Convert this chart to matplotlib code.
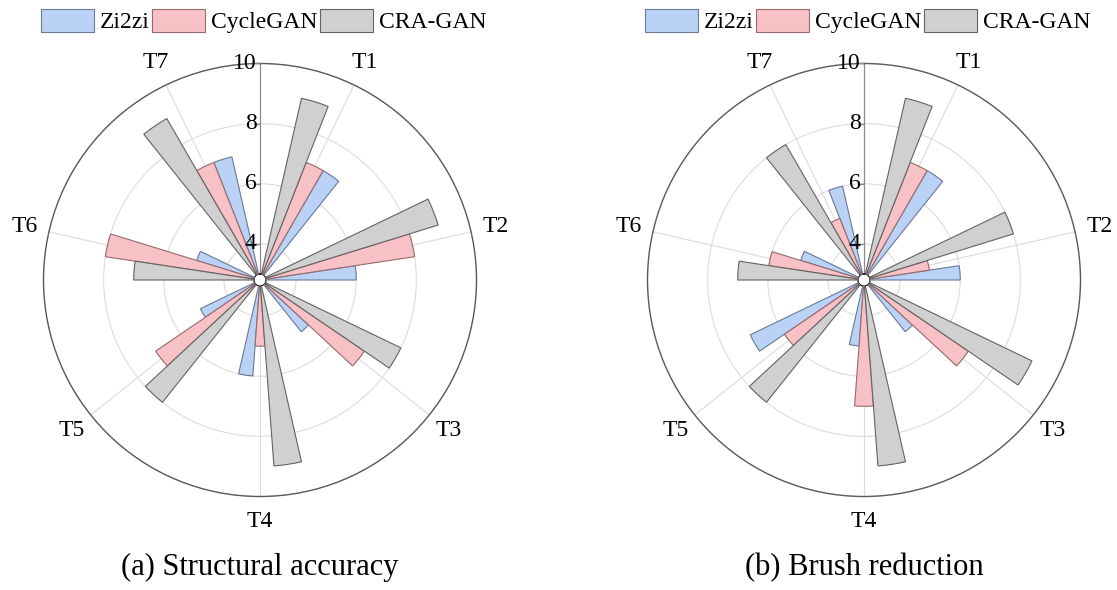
import numpy as np
import matplotlib
matplotlib.use('Agg')
import matplotlib.pyplot as plt
from matplotlib.transforms import offset_copy

plt.rcParams['font.family'] = 'Liberation Serif'

tasks = ['T1', 'T2', 'T3', 'T4', 'T5', 'T6', 'T7']
methods = ['Zi2zi', 'CycleGAN', 'CRA-GAN']

# (a) structural accuracy scores per task
acc_zi2zi = [7, 6, 5, 6, 5, 5, 7]
acc_cyclegan = [7, 8, 7, 5, 7, 8, 7]
acc_cragan = [9, 9, 8, 9, 8, 7, 9]

# (b) brush reduction scores per task
brush_zi2zi = [7, 6, 5, 5, 7, 5, 6]
brush_cyclegan = [7, 5, 7, 7, 6, 6, 5]
brush_cragan = [9, 8, 9, 9, 8, 7, 8]

r_ticks = [4, 6, 8, 10]
r_min, r_max = 3, 10

fills = ['#b9d2f6', '#f8c1c5', '#d0d0d0']
edges = ['#6a7a95', '#966a6d', '#636363']


def draw_rose(ax, series, caption):
    n = len(tasks)
    sector = 2 * np.pi / n
    width = sector / 6
    centers = (np.arange(n) + 0.5) * sector
    # Zi2zi sits clockwise of the spoke, CRA-GAN counter-clockwise
    offsets = [width, 0, -width]

    ax.set_theta_zero_location('N')
    ax.set_theta_direction(-1)

    bars = []
    for vals, off, fc, ec, name in zip(series, offsets, fills, edges, methods):
        vals = np.asarray(vals, dtype=float)
        b = ax.bar(centers + off, vals - r_min, width=width, bottom=r_min,
                   color=fc, edgecolor=ec, linewidth=0.8, label=name, zorder=3)
        bars.append(b)

    ax.set_ylim(r_min, r_max)
    ax.set_rorigin(2.8)
    ax.spines['inner'].set_visible(False)
    ax.spines['polar'].set_color('#5a5a5a')
    ax.spines['polar'].set_linewidth(1.0)

    ax.set_xticks(centers)
    ax.set_xticklabels(tasks, fontsize=17)
    ax.tick_params(axis='x', pad=11, length=0)
    ax.set_yticks(r_ticks)
    ax.set_yticklabels([])
    ax.tick_params(axis='y', length=0)
    ax.grid(True, color='#dcdcdc', linewidth=0.8)
    ax.set_axisbelow(True)

    # radial axis along the top, labels on its left
    ax.plot([0, 0], [r_min, r_max], color='#8c8c8c', linewidth=0.9, zorder=2)
    ax.plot(np.zeros(len(r_ticks)), r_ticks, linestyle='none', marker=0,
            markersize=4, color='#8c8c8c', zorder=4, clip_on=False)
    lab_tr = offset_copy(ax.transData, fig=ax.figure, x=-2.5, y=0, units='points')
    for r in r_ticks:
        ax.text(0, r, str(r), transform=lab_tr, ha='right', va='center',
                fontsize=17, zorder=5, clip_on=False)

    pos = ax.get_position()
    ax.figure.legend(handles=bars, labels=methods, loc='center',
                     bbox_to_anchor=(pos.x0 + pos.width / 2 + 0.003, 0.964),
                     ncol=3, frameon=False, fontsize=17, handlelength=2.25,
                     handleheight=1.1, handletextpad=0.25, columnspacing=0.1,
                     borderpad=0, borderaxespad=0)

    ax.figure.text(pos.x0 + pos.width / 2, 0.038, caption, ha='center',
                   va='center', fontsize=22)


fig = plt.figure(figsize=(11.17, 5.90), dpi=100)
ax_a = fig.add_axes([43.5 / 1117, 93.5 / 590, 433 / 1117, 433 / 590], projection='polar')
ax_b = fig.add_axes([647.5 / 1117, 93.5 / 590, 433 / 1117, 433 / 590], projection='polar')

draw_rose(ax_a, [acc_zi2zi, acc_cyclegan, acc_cragan], '(a) Structural accuracy')
draw_rose(ax_b, [brush_zi2zi, brush_cyclegan, brush_cragan], '(b) Brush reduction')

fig.savefig('out.png', dpi=100)
